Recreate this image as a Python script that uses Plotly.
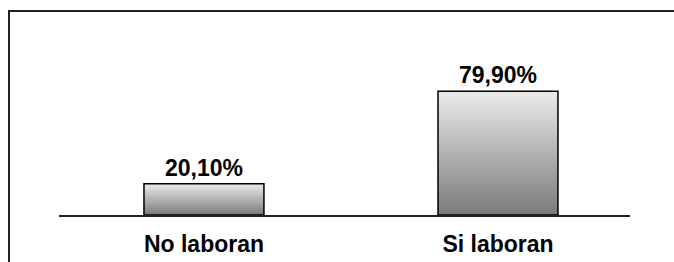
import plotly.graph_objects as go

categories = ["No laboran", "Si laboran"]
values = [20.10, 79.90]

W, H = 674, 262
L, R, T, B = 59, 44, 60, 47
bar_w = 0.408

fig = go.Figure()

# gradient-filled bars drawn as filled polygons built from the data
for i, v in enumerate(values):
    x0, x1 = i - bar_w / 2, i + bar_w / 2
    fig.add_trace(go.Scatter(
        x=[x0, x1, x1, x0, x0], y=[0, 0, v, v, 0],
        mode="lines", fill="toself",
        fillgradient=dict(type="vertical",
                          colorscale=[[0, "#7a7a7a"], [1, "#ebebeb"]]),
        line=dict(color="#000000", width=1.5),
        hoverinfo="skip", showlegend=False,
    ))

fig.add_trace(go.Bar(
    x=list(range(len(values))), y=values, width=bar_w,
    marker=dict(color="rgba(0,0,0,0)", line=dict(width=0)),
    texttemplate="%{y:.2f}%", textposition="outside", cliponaxis=False,
    textfont=dict(family="Liberation Sans, Arial", size=23, color="#000000", weight="bold"),
    showlegend=False, hoverinfo="skip",
))

fig.update_layout(
    width=W, height=H, autosize=False,
    margin=dict(l=L, r=R, t=T, b=B, pad=0, autoexpand=False),
    paper_bgcolor="white", plot_bgcolor="white",
    separators=",.",
    font=dict(family="Liberation Sans, Arial", color="#000000"),
    xaxis=dict(
        range=[-0.493, 1.449], automargin=False,
        tickmode="array", tickvals=list(range(len(categories))), ticktext=categories,
        tickfont=dict(family="Liberation Sans, Arial", size=23, color="#000000", weight="bold"),
        showline=True, linecolor="#222222", linewidth=1.5,
        showgrid=False, zeroline=False, ticks="", ticklabelstandoff=8,
        fixedrange=True,
    ),
    yaxis=dict(range=[0, 100], visible=False, fixedrange=True, automargin=False),
    shapes=[dict(
        type="rect", xref="paper", yref="paper",
        x0=(9 - L) / (W - L - R), x1=1.3,
        y0=-1.0, y1=(H - B - 11) / (H - T - B),
        line=dict(color="#222222", width=2), fillcolor="rgba(0,0,0,0)",
        layer="below",
    )],
)

fig.write_html("out.html", config={"responsive": False, "displayModeBar": False})

with open("out.html", encoding="utf-8") as f:
    html = f.read()
html = html.replace(
    "<head>",
    "<head><style>html,body{margin:0;padding:0;overflow:hidden;}</style>",
    1,
)
with open("out.html", "w", encoding="utf-8") as f:
    f.write(html)
